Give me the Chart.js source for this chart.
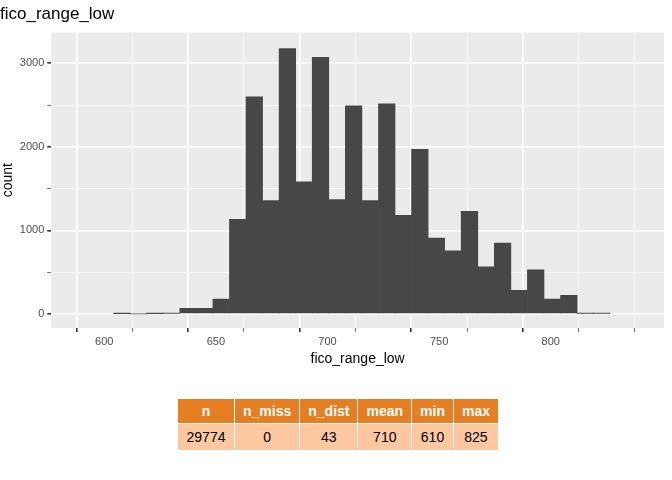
<!DOCTYPE html>
<html><head><meta charset="utf-8">
<script src="https://cdn.jsdelivr.net/npm/chart.js@4"></script>
<style>
body{margin:0;background:#fff;font-family:"Liberation Sans",Arial,sans-serif;}
#wrap{position:absolute;left:0;top:0;width:672px;height:372px;}
table{position:absolute;left:177px;top:398px;border-collapse:collapse;font-size:14px;}
th{background:#E67E22;color:#fff;font-weight:bold;height:24px;padding:0 8px;border:1px solid #fff;}
td{background:#FDC8A0;color:#000;height:26px;text-align:center;padding:0 8px;border:1px solid #fff;}
</style></head><body>
<div id="wrap"><canvas id="c"></canvas></div>
<table>
<tr><th style="width:40px">n</th><th>n_miss</th><th>n_dist</th><th>mean</th><th>min</th><th>max</th></tr>
<tr><td>29774</td><td>0</td><td>43</td><td>710</td><td>610</td><td>825</td></tr>
</table>
<script>
// histogram bins (ggplot default, 30 bins)
const binStart = 604.2;
const binWidth = 7.414;
const counts = [3,0,3,5,67,67,177,1131,2597,1356,3177,1581,3071,1368,2491,1356,2515,1179,1971,907,753,1226,564,847,280,528,177,221,5,5];
const xTicks = [600,650,700,750,800];
const yTicks = [0,1000,2000,3000];

const points = counts.map((c, i) => ({x: binStart + binWidth * (i + 0.5), y: c}));

const panelBg = {
  id: 'panelBg',
  beforeDraw(chart) {
    const a = chart.chartArea, ctx = chart.ctx;
    ctx.save(); ctx.fillStyle = '#EBEBEB';
    ctx.fillRect(a.left, a.top, a.width, a.height); ctx.restore();
  }
};

const major = (list, ctx) => ctx.tick && list.includes(ctx.tick.value) ? 1.6 : 0.7;

new Chart(document.getElementById('c'), {
  type: 'bar',
  data: {datasets: [{data: points, backgroundColor: '#474747', barPercentage: 1, categoryPercentage: 1, borderWidth: 0}]},
  options: {
    animation: false, responsive: true, maintainAspectRatio: false,
    layout: {padding: {left: 0, right: 8, top: 0, bottom: 0}},
    plugins: {
      legend: {display: false}, tooltip: {enabled: false},
      title: {display: true, text: 'fico_range_low', align: 'start', color: '#000',
        font: {size: 17, family: 'Liberation Sans', weight: 'normal'}, padding: {top: 4, bottom: 8}}
    },
    scales: {
      x: {
        type: 'linear', min: 590, max: 837,
        grid: {color: '#fff', lineWidth: ctx => major(xTicks, ctx), tickLength: 4, tickColor: '#333'},
        border: {display: false},
        ticks: {autoSkip: false, color: '#4D4D4D', font: {size: 11},
          callback: v => xTicks.includes(v) ? v : ''},
        afterBuildTicks: s => { s.ticks = []; for (let v = 600; v <= 825; v += 25) s.ticks.push({value: v}); },
        title: {display: true, text: 'fico_range_low', color: '#000', font: {size: 14}, padding: {top: 0}}
      },
      y: {
        min: -170, max: 3370,
        grid: {color: '#fff', lineWidth: ctx => major(yTicks, ctx), tickLength: 4, tickColor: '#333'},
        border: {display: false},
        afterBuildTicks: s => { s.ticks = []; for (let v = 0; v <= 3000; v += 500) s.ticks.push({value: v}); },
        ticks: {autoSkip: false, color: '#4D4D4D', font: {size: 11},
          callback: v => yTicks.includes(v) ? v : ''},
        title: {display: true, text: 'count', color: '#000', font: {size: 14}, padding: 0}
      }
    }
  },
  plugins: [panelBg]
});
</script>
</body></html>
